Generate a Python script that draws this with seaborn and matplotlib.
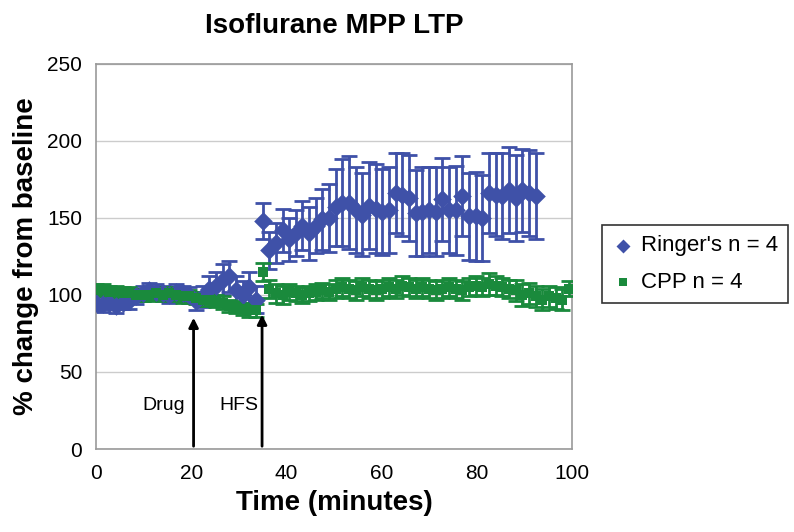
import numpy as np
import pandas as pd
import seaborn as sns
import matplotlib.pyplot as plt

# time points (minutes)
ringer_time = np.round(np.arange(67) * 1.4, 1)
cpp_time = np.round(np.arange(72) * 1.4, 1)

ringer_mean = [95, 94, 95, 93, 95, 96, 99, 101, 103, 102,
               101, 100, 102, 101, 100, 96, 99, 104, 106, 110,
               112, 103, 100, 105, 97, 148, 129, 134, 142, 136,
               140, 145, 140, 145, 149, 150, 157, 160, 160, 155,
               152, 158, 156, 154, 155, 166, 165, 163, 153, 154,
               155, 154, 162, 155, 155, 164, 151, 151, 150, 166,
               165, 164, 168, 163, 168, 166, 164]
ringer_err = [5, 5, 4, 5, 4, 5, 5, 5, 5, 5,
              5, 5, 5, 5, 5, 6, 7, 8, 9, 10,
              10, 9, 9, 10, 9, 12, 12, 13, 14, 14,
              15, 16, 17, 18, 20, 22, 25, 28, 30, 28,
              27, 28, 29, 28, 28, 26, 27, 28, 28, 29,
              28, 29, 27, 28, 29, 26, 28, 29, 28, 26,
              27, 28, 28, 28, 27, 28, 28]

cpp_mean = [103, 103, 102, 102, 101, 101, 100, 100,
            100, 101, 100, 101, 100, 99, 99,
            98, 97, 97, 96, 95, 93, 92, 91, 90, 90,
            115, 104,
            101, 100, 102, 101, 100, 101, 102, 103, 102,
            104, 105, 104, 103, 105, 104, 103, 104, 105, 104, 106, 105, 104, 105, 104,
            103, 104, 105, 104, 103, 105, 106, 105, 107, 106, 105, 104,
            103, 100, 101, 99, 97, 99, 98, 97, 104]
cpp_err = [4, 4, 4, 4, 4, 4, 4, 4,
           4, 4, 4, 4, 4, 4, 4,
           4, 4, 4, 4, 4, 4, 4, 4, 4, 4,
           6, 6,
           6, 6, 5, 5, 5, 5, 5, 5, 5,
           6, 6, 6, 6, 6, 6, 6, 6, 6, 6, 6, 6, 6, 6, 6,
           6, 6, 6, 6, 6, 6, 6, 6, 7, 6, 6, 6,
           7, 7, 7, 7, 7, 7, 7, 7, 5]

blue = "#3f51a8"
green = "#1a8a3c"

sns.set_style("white")
plt.rcParams["font.family"] = ["Liberation Sans", "DejaVu Sans"]
plt.rcParams["text.color"] = "black"
plt.rcParams["axes.labelcolor"] = "black"
plt.rcParams["xtick.color"] = "black"
plt.rcParams["ytick.color"] = "black"

fig = plt.figure(figsize=(7.94, 5.32), dpi=100)
ax = fig.add_axes([0.121, 0.156, 0.599, 0.724])

ringer = pd.DataFrame({"time": ringer_time, "value": ringer_mean, "err": ringer_err})
cpp = pd.DataFrame({"time": cpp_time, "value": cpp_mean, "err": cpp_err})

# error bars
ax.errorbar(ringer["time"], ringer["value"], yerr=ringer["err"], fmt="none",
            ecolor=blue, elinewidth=2, capsize=6, capthick=2, zorder=2)
ax.errorbar(cpp["time"], cpp["value"], yerr=cpp["err"], fmt="none",
            ecolor=green, elinewidth=2, capsize=6, capthick=2, zorder=3)

sns.scatterplot(data=ringer, x="time", y="value", marker="D", s=90, color=blue,
                edgecolor=blue, linewidth=0, ax=ax, zorder=4, label="Ringer's n = 4")
sns.scatterplot(data=cpp, x="time", y="value", marker="s", s=60, color=green,
                edgecolor=green, linewidth=0, ax=ax, zorder=5, label="CPP n = 4")

# annotations
ax.annotate("", xy=(20.5, 87), xytext=(20.5, 0),
            arrowprops=dict(arrowstyle="-|>", color="black", lw=2, mutation_scale=14))
ax.annotate("", xy=(34.9, 89), xytext=(34.9, 0),
            arrowprops=dict(arrowstyle="-|>", color="black", lw=2, mutation_scale=14))
ax.text(18.7, 28, "Drug", ha="right", va="center", fontsize=14)
ax.text(30.0, 28, "HFS", ha="center", va="center", fontsize=14)

ax.set_xlim(0, 100)
ax.set_ylim(0, 250)
ax.set_xticks([0, 20, 40, 60, 80, 100])
ax.set_yticks([0, 50, 100, 150, 200, 250])
ax.yaxis.grid(True, color="#cccccc", lw=1)
ax.set_axisbelow(True)
for s in ax.spines.values():
    s.set_color("#999999")
    s.set_linewidth(1.2)
ax.tick_params(axis="both", direction="out", length=6, color="#999999",
               labelcolor="black", labelsize=15, pad=4)
ax.tick_params(axis="x", pad=5)

ax.set_title("Isoflurane MPP LTP", fontsize=20, fontweight="bold", pad=22)
ax.set_xlabel("Time (minutes)", fontsize=20, fontweight="bold", labelpad=5)
ax.set_ylabel("% change from baseline", fontsize=20, fontweight="bold", labelpad=6)

leg = ax.legend(loc="center left", bbox_to_anchor=(1.04, 0.48), frameon=True,
                fancybox=False, edgecolor="black", fontsize=16, handletextpad=0.3,
                labelspacing=0.7, borderpad=0.45, markerscale=0.75, handlelength=1.0)
leg.get_frame().set_linewidth(1.2)

fig.savefig("out.png", dpi=100)
